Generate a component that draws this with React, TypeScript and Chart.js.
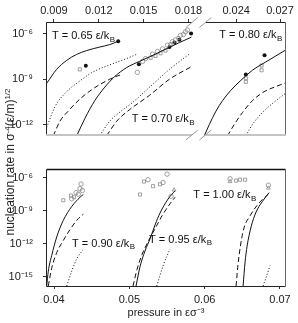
import React, { useEffect, useRef } from "react";
import { Chart, registerables } from "chart.js";

Chart.register(...registerables);

type Pt = [number, number];

// ---------------- axes / ticks ----------------
const topTicksLeft = [0.009, 0.012, 0.015, 0.018];
const topTicksRight = [0.024, 0.027];
const bottomTicksX = [0.04, 0.05, 0.06, 0.07];
const topTicksY = [1e-6, 1e-9, 1e-12];
const bottomTicksY = [1e-6, 1e-9, 1e-12, 1e-15];
const topLeftRange = [0.008467, 0.018667];
const topRightRange = [0.021409, 0.02741];
const topYRange = [2.0e-13, 5.82e-6];
const bottomXRange = [0.038938, 0.070797];
const bottomYRange = [1.47e-16, 6.92e-6];

// ---------------- top panel: T = 0.65 ----------------
const t065Solid: Pt[] = [[0.008513, 5.3e-10], [0.00918, 4.44e-9], [0.009847, 1.72e-8], [0.010513, 4.26e-8], [0.01118, 7.62e-8], [0.012067, 1.31e-7], [0.012733, 1.89e-7], [0.01318, 2.84e-7], [0.013287, 3.25e-7]];
const t065Dashed: Pt[] = [[0.008953, 1.89e-13], [0.0094, 1.72e-12], [0.009953, 7.94e-12], [0.010733, 4.88e-11], [0.01162, 2.35e-10], [0.012733, 1.0e-9], [0.013513, 2.05e-9]];
const t065Dotted: Pt[] = [[0.008513, 6.67e-13], [0.009067, 1.56e-11], [0.009847, 1.5e-10], [0.010733, 7.62e-10], [0.0116, 2.96e-9], [0.012733, 8.73e-9], [0.013847, 2.25e-8], [0.014513, 4.26e-8]];
const t065Filled: Pt[] = [[0.011133, 7.62e-9], [0.0133, 3.16e-7]];
const t065Squares: Pt[] = [[0.010733, 4.44e-9]];

// ---------------- top panel: T = 0.70 ----------------
const t070Solid: Pt[] = [[0.010533, 1.97e-13], [0.011067, 2.58e-12], [0.011733, 3.88e-11], [0.0124, 2.96e-10], [0.013067, 1.5e-9], [0.013867, 5.82e-9], [0.014733, 1.5e-8], [0.0154, 2.96e-8], [0.0164, 8.73e-8], [0.0174, 2.58e-7], [0.0182, 5.82e-7]];
const t070Dashed: Pt[] = [[0.012533, 1.97e-13], [0.0132, 1.72e-12], [0.014067, 1.0e-11], [0.0154, 8.73e-11], [0.016733, 1.0e-9], [0.0182, 6.67e-9]];
const t070Dotted: Pt[] = [[0.012067, 1.97e-13], [0.012733, 1.72e-12], [0.0134, 6.67e-12], [0.014267, 2.96e-11], [0.0154, 2.96e-10], [0.016733, 4.44e-9], [0.018133, 5.08e-8]];
const t070Filled: Pt[] = [[0.014687, 9.59e-9], [0.016733, 1.31e-7], [0.017067, 2.58e-7], [0.0174, 3.88e-7], [0.01818, 1.0e-6]];
const t070Circles: Pt[] = [[0.01458, 2.84e-9], [0.014933, 1.5e-8], [0.015133, 2.25e-8], [0.0156, 4.44e-8], [0.015933, 6.67e-8], [0.016267, 1e-7], [0.0166, 1.72e-7], [0.016933, 2.96e-7], [0.017133, 3.88e-7], [0.017467, 7.62e-7], [0.017667, 8.73e-7], [0.0178, 1.31e-6], [0.017933, 1.72e-6]];
const t070Squares: Pt[] = [[0.015467, 2.58e-8], [0.0158, 3.38e-8], [0.016133, 5.08e-8], [0.016467, 7.62e-8], [0.0168, 1.97e-7], [0.017333, 5.08e-7]];

// ---------------- top panel: T = 0.80 ----------------
const t080Solid: Pt[] = [[0.021818, 1.89e-13], [0.022159, 1.04e-12], [0.022616, 7.94e-12], [0.023066, 3.88e-11], [0.023639, 1.89e-10], [0.02432, 8.39e-10], [0.025111, 3.88e-9], [0.026025, 1.36e-8], [0.027389, 8.39e-8]];
const t080Dashed: Pt[] = [[0.023407, 1.89e-13], [0.023864, 1.04e-12], [0.02443, 6.4e-12], [0.025111, 3.88e-11], [0.025909, 1.5e-10], [0.026707, 3.25e-10], [0.027389, 5.82e-10]];
const t080Dotted: Pt[] = [[0.024661, 1.89e-13], [0.025111, 1.04e-12], [0.025793, 6.4e-12], [0.026475, 2.48e-11], [0.027389, 1.19e-10]];
const t080Filled: Pt[] = [[0.024661, 2.05e-9], [0.025943, 3.72e-8]];
const t080Squares: Pt[] = [[0.024661, 1.15e-9], [0.024661, 6.67e-10], [0.025739, 7.94e-9], [0.025739, 3.88e-9]];

// ---------------- bottom panel: T = 0.90 ----------------
const t090Solid: Pt[] = [[0.039031, 1.47e-16], [0.039243, 3.26e-15], [0.039695, 8.73e-14], [0.040359, 4.19e-12], [0.041235, 1.36e-10], [0.042351, 2.48e-9], [0.043453, 1.72e-8], [0.043891, 3.07e-8]];
const t090Dashed: Pt[] = [[0.039243, 1.47e-16], [0.039695, 6.17e-15], [0.040359, 1.56e-13], [0.041235, 2.05e-12], [0.042125, 1.97e-11], [0.043014, 1.36e-10], [0.043891, 4.98e-10]];
const t090Dotted: Pt[] = [[0.041687, 1.47e-16], [0.042351, 3.26e-15], [0.043014, 4.27e-14], [0.043811, 2.63e-13]];
const t090Squares: Pt[] = [[0.041235, 9.08e-9], [0.042258, 2.39e-8], [0.042656, 1.72e-8]];
const t090Circles: Pt[] = [[0.042351, 1.24e-8], [0.042922, 4.52e-8], [0.043227, 3.26e-8], [0.043453, 1.04e-7], [0.043586, 2.74e-7], [0.043758, 7.06e-8]];

// ---------------- bottom panel: T = 0.95 ----------------
const t095Solid: Pt[] = [[0.05089, 1.47e-16], [0.051421, 8.57e-15], [0.052085, 2.3e-13], [0.052749, 2.85e-12], [0.053413, 5.18e-11], [0.054077, 6.41e-10], [0.055139, 1.17e-8], [0.056069, 6.67e-8]];
const t095Dashed: Pt[] = [[0.050491, 1.47e-16], [0.051023, 4.8e-15], [0.051687, 1.06e-13], [0.052483, 1.59e-12], [0.053413, 2.39e-11], [0.054343, 3.59e-10], [0.055405, 4.44e-9], [0.056069, 1.72e-8]];
const t095Dotted: Pt[] = [[0.053639, 1.47e-16], [0.054515, 1.19e-14], [0.055405, 3.38e-13]];
const t095Squares: Pt[] = [[0.051421, 3.07e-8], [0.051952, 4.61e-7], [0.053147, 1.75e-7], [0.054077, 2.58e-7]];
const t095Circles: Pt[] = [[0.052483, 6.79e-7], [0.054475, 3.8e-7], [0.055006, 2.17e-6], [0.055538, 2.08e-8]];
const t095Triangles: Pt[] = [[0.055936, 8.09e-8]];

// ---------------- bottom panel: T = 1.00 ----------------
const t100Solid: Pt[] = [[0.0651, 1.47e-16], [0.065365, 2.25e-14], [0.065631, 6.05e-13], [0.066162, 3.52e-11], [0.066826, 7.78e-10], [0.067623, 6.53e-9], [0.068552, 4.52e-8]];
const t100Dashed: Pt[] = [[0.06417, 1.47e-16], [0.064436, 1.53e-14], [0.0651, 1.34e-11], [0.06603, 3.59e-10], [0.067357, 6.53e-9], [0.06842, 3.07e-8]];
const t100Dotted: Pt[] = [[0.067756, 1.47e-16], [0.068685, 1.04e-14]];
const t100Squares: Pt[] = [[0.06417, 5.6e-7], [0.064701, 6.79e-7], [0.065365, 6.79e-7]];
const t100Circles: Pt[] = [[0.063373, 8.24e-7], [0.068459, 2.13e-7]];
const t100Triangles: Pt[] = [[0.063373, 4.61e-7], [0.068459, 1.19e-7]];

// ---------------- labels ----------------
type Lbl = { text: string; sub: string; axis: string; x: number; y: number };
const topLabels: Lbl[] = [
  { text: "T = 0.65 \u03b5/k", sub: "B", axis: "xL", x: 0.008867, y: 6.67e-7 },
  { text: "T = 0.70 \u03b5/k", sub: "B", axis: "xL", x: 0.0142, y: 2.25e-12 },
  { text: "T = 0.80 \u03b5/k", sub: "B", axis: "xR", x: 0.022841, y: 7.6e-7 },
];
const bottomLabels: Lbl[] = [
  { text: "T = 0.90 \u03b5/k", sub: "B", axis: "x", x: 0.04239, y: 1.08e-12 },
  { text: "T = 0.95 \u03b5/k", sub: "B", axis: "x", x: 0.052616, y: 2.34e-12 },
  { text: "T = 1.00 \u03b5/k", sub: "B", axis: "x", x: 0.058499, y: 2.6e-8 },
];

const FONT = '"Liberation Sans", Arial, sans-serif';
const SUP: Record<string, string> = { "-": "\u207b", "0": "\u2070", "1": "\u00b9", "2": "\u00b2", "3": "\u00b3", "4": "\u2074", "5": "\u2075", "6": "\u2076", "7": "\u2077", "8": "\u2078", "9": "\u2079" };
const supStr = (s: string) => s.split("").map((c) => SUP[c] || c).join("");
const logLabel = (v: number) => "10" + supStr(String(Math.round(Math.log10(v))));

const toXY = (d: Pt[]) => d.map(([x, y]) => ({ x, y }));

const lineDs = (d: Pt[], axis: string, dash: number[]) => ({
  data: toXY(d),
  xAxisID: axis,
  showLine: true,
  borderColor: "#111",
  borderWidth: 1,
  borderDash: dash,
  pointRadius: 0,
  cubicInterpolationMode: "monotone",
  fill: false,
});
const markDs = (d: Pt[], axis: string, style: string, filled: boolean) => ({
  data: toXY(d),
  xAxisID: axis,
  showLine: false,
  pointStyle: style,
  pointRadius: filled ? 2 : 2.2,
  pointBackgroundColor: filled ? "#111" : "rgba(255,255,255,0)",
  pointBorderColor: filled ? "#111" : "#888",
  pointBorderWidth: filled ? 0 : 0.8,
});

const SOLID: number[] = [];
const DASH = [5, 3];
const DOT = [1, 2];

const labelPlugin = (labels: Lbl[]) => ({
  id: "tlabels",
  afterDatasetsDraw(chart: any) {
    const ctx = chart.ctx;
    ctx.save();
    ctx.fillStyle = "#111";
    ctx.textBaseline = "middle";
    ctx.textAlign = "left";
    for (const l of labels) {
      const x = chart.scales[l.axis].getPixelForValue(l.x);
      const y = chart.scales.y.getPixelForValue(l.y);
      ctx.font = "11px " + FONT;
      ctx.fillText(l.text, x, y);
      const w = ctx.measureText(l.text).width;
      ctx.font = "8px " + FONT;
      ctx.fillText(l.sub, x + w + 0.5, y + 3.5);
    }
    ctx.restore();
  },
});

const line = (ctx: any, x1: number, y1: number, x2: number, y2: number) => {
  ctx.beginPath();
  ctx.moveTo(x1, y1);
  ctx.lineTo(x2, y2);
  ctx.stroke();
};

const topFrame = {
  id: "topFrame",
  afterDraw(chart: any) {
    const ctx = chart.ctx;
    const a = chart.chartArea;
    const brk = chart.scales.xL.right;
    const b1 = brk - 6.5;
    const b2 = brk + 7;
    const L = Math.round(a.left) + 0.5;
    const R = Math.round(a.right) - 0.5;
    const T = Math.round(a.top) + 0.5;
    const B = Math.round(a.bottom);
    ctx.save();
    ctx.lineWidth = 1;
    ctx.strokeStyle = "#222";
    line(ctx, L, T, b1, T);
    line(ctx, b2, T, R, T);
    line(ctx, L, T, L, B);
    ctx.strokeStyle = "#666";
    line(ctx, R, T, R, B);
    ctx.strokeStyle = "#c4c4c4";
    ctx.lineWidth = 2;
    line(ctx, L - 0.5, B, b1, B);
    line(ctx, b2, B, R + 0.5, B);
    ctx.strokeStyle = "#999";
    ctx.lineWidth = 1;
    for (const c of [b1, b2]) {
      line(ctx, c - 6, T + 5, c + 6, T - 5);
      line(ctx, c - 6, B + 5, c + 6, B - 5);
    }
    ctx.restore();
  },
};

const bottomFrame = {
  id: "bottomFrame",
  afterDraw(chart: any) {
    const ctx = chart.ctx;
    const a = chart.chartArea;
    const L = Math.round(a.left) + 0.5;
    const R = Math.round(a.right) - 0.5;
    const T = Math.round(a.top) + 0.5;
    const B = Math.round(a.bottom) + 0.5;
    ctx.save();
    ctx.strokeStyle = "#111";
    ctx.lineWidth = 1.6;
    line(ctx, L, T, R, T);
    ctx.lineWidth = 1;
    ctx.strokeStyle = "#222";
    line(ctx, L, T, L, B);
    line(ctx, L, B, R, B);
    ctx.strokeStyle = "#666";
    line(ctx, R, T, R, B);
    ctx.restore();
  },
};

const tickFont = { family: FONT, size: 11 };

export default function App() {
  const topRef = useRef<HTMLCanvasElement>(null);
  const botRef = useRef<HTMLCanvasElement>(null);

  useEffect(() => {
    const top = new Chart(topRef.current as HTMLCanvasElement, {
      type: "scatter",
      data: {
        datasets: [
          lineDs(t065Solid, "xL", SOLID),
          lineDs(t065Dashed, "xL", DASH),
          lineDs(t065Dotted, "xL", DOT),
          lineDs(t070Solid, "xL", SOLID),
          lineDs(t070Dashed, "xL", DASH),
          lineDs(t070Dotted, "xL", DOT),
          lineDs(t080Solid, "xR", SOLID),
          lineDs(t080Dashed, "xR", DASH),
          lineDs(t080Dotted, "xR", DOT),
          markDs(t065Squares, "xL", "rect", false),
          markDs(t070Circles, "xL", "circle", false),
          markDs(t070Squares, "xL", "rect", false),
          markDs(t080Squares, "xR", "rect", false),
          markDs(t065Filled, "xL", "circle", true),
          markDs(t070Filled, "xL", "circle", true),
          markDs(t080Filled, "xR", "circle", true),
        ] as any,
      },
      options: {
        responsive: false,
        animation: false,
        events: [],
        layout: { padding: { left: 0, right: 11, top: 0, bottom: 3 } },
        plugins: { legend: { display: false }, tooltip: { enabled: false } },
        scales: {
          xR: {
            type: "linear", position: "top", stack: "tx", stackWeight: 88,
            min: topRightRange[0], max: topRightRange[1],
            afterBuildTicks: (s: any) => { s.ticks = topTicksRight.map((v) => ({ value: v })); },
            afterFit: (s: any) => { s.height = 22; },
            ticks: { callback: (v: any) => Number(v).toFixed(3), font: tickFont, color: "#222", padding: 1, maxRotation: 0, autoSkip: false },
            grid: { drawOnChartArea: false, tickLength: 3, color: "#333" },
            border: { display: false },
          },
          xL: {
            type: "linear", position: "top", stack: "tx", stackWeight: 153,
            min: topLeftRange[0], max: topLeftRange[1],
            afterBuildTicks: (s: any) => { s.ticks = topTicksLeft.map((v) => ({ value: v })); },
            afterFit: (s: any) => { s.height = 22; },
            ticks: { callback: (v: any) => Number(v).toFixed(3), font: tickFont, color: "#222", padding: 1, maxRotation: 0, autoSkip: false },
            grid: { drawOnChartArea: false, tickLength: 3, color: "#333" },
            border: { display: false },
          },
          y: {
            type: "logarithmic", position: "left",
            min: topYRange[0], max: topYRange[1],
            afterBuildTicks: (s: any) => { s.ticks = topTicksY.map((v) => ({ value: v })); },
            afterFit: (s: any) => { s.width = 46; },
            ticks: { callback: (v: any) => logLabel(Number(v)), font: tickFont, color: "#222", padding: 10, autoSkip: false },
            grid: { drawOnChartArea: false, tickLength: 3, color: "#333" },
            border: { display: false },
          },
        } as any,
      },
      plugins: [topFrame, labelPlugin(topLabels)],
    } as any);

    const bottom = new Chart(botRef.current as HTMLCanvasElement, {
      type: "scatter",
      data: {
        datasets: [
          lineDs(t090Solid, "x", SOLID),
          lineDs(t090Dashed, "x", DASH),
          lineDs(t090Dotted, "x", DOT),
          lineDs(t095Solid, "x", SOLID),
          lineDs(t095Dashed, "x", DASH),
          lineDs(t095Dotted, "x", DOT),
          lineDs(t100Solid, "x", SOLID),
          lineDs(t100Dashed, "x", DASH),
          lineDs(t100Dotted, "x", DOT),
          markDs(t090Squares, "x", "rect", false),
          markDs(t090Circles, "x", "circle", false),
          markDs(t095Squares, "x", "rect", false),
          markDs(t095Circles, "x", "circle", false),
          markDs(t095Triangles, "x", "triangle", false),
          markDs(t100Squares, "x", "rect", false),
          markDs(t100Circles, "x", "circle", false),
          markDs(t100Triangles, "x", "triangle", false),
        ] as any,
      },
      options: {
        responsive: false,
        animation: false,
        events: [],
        layout: { padding: { left: 0, right: 12, top: 7, bottom: 0 } },
        plugins: { legend: { display: false }, tooltip: { enabled: false } },
        scales: {
          x: {
            type: "linear", position: "bottom",
            min: bottomXRange[0], max: bottomXRange[1],
            afterBuildTicks: (s: any) => { s.ticks = bottomTicksX.map((v) => ({ value: v })); },
            afterFit: (s: any) => { s.height = 37; },
            ticks: { callback: (v: any) => Number(v).toFixed(2), font: tickFont, color: "#222", padding: 4, maxRotation: 0, autoSkip: false },
            grid: { drawOnChartArea: false, tickLength: 3, color: "#333" },
            border: { display: false },
            title: { display: true, text: "pressure in \u03b5\u03c3\u207b\u00b3", font: tickFont, color: "#222", padding: { top: 0, bottom: 3 } },
          },
          y: {
            type: "logarithmic", position: "left",
            min: bottomYRange[0], max: bottomYRange[1],
            afterBuildTicks: (s: any) => { s.ticks = bottomTicksY.map((v) => ({ value: v })); },
            afterFit: (s: any) => { s.width = 46; },
            ticks: { callback: (v: any) => logLabel(Number(v)), font: tickFont, color: "#222", padding: 10, autoSkip: false },
            grid: { drawOnChartArea: false, tickLength: 3, color: "#333" },
            border: { display: false },
          },
        } as any,
      },
      plugins: [bottomFrame, labelPlugin(bottomLabels)],
    } as any);

    return () => {
      top.destroy();
      bottom.destroy();
    };
  }, []);

  return (
    <div style={{ position: "fixed", left: 0, top: 0, width: 298, height: 323, background: "#fff", overflow: "hidden" }}>
      <canvas ref={topRef} width={298} height={152} style={{ position: "absolute", left: 0, top: 0 }} />
      <canvas ref={botRef} width={298} height={171} style={{ position: "absolute", left: 0, top: 152 }} />
      <div
        style={{
          position: "absolute", left: 10 - 90, top: 162 - 8, width: 180, height: 16,
          transform: "rotate(-90deg)", transformOrigin: "50% 50%",
          textAlign: "center", whiteSpace: "nowrap", font: "12px " + FONT, color: "#222", lineHeight: "16px",
        }}
      >
        nucleation rate in {"\u03c3"}
        <sup style={{ fontSize: 8, verticalAlign: "4px", lineHeight: 0 }}>-4</sup>
        ({"\u03b5"}/m)
        <sup style={{ fontSize: 8, verticalAlign: "4px", lineHeight: 0 }}>1/2</sup>
      </div>
    </div>
  );
}
